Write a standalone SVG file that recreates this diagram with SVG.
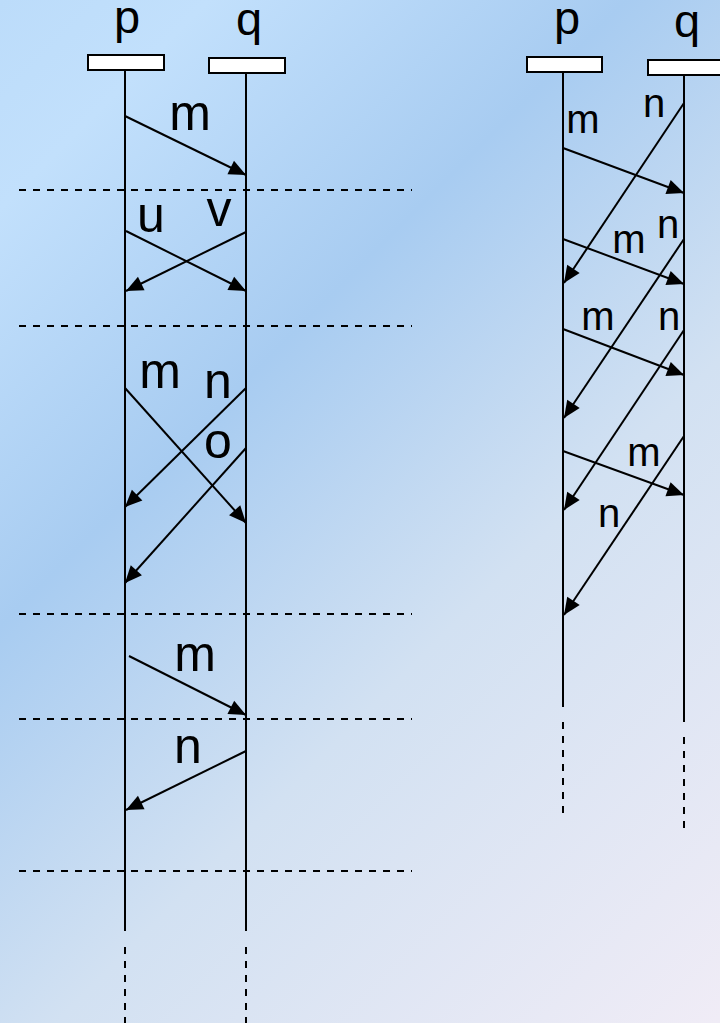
<svg xmlns="http://www.w3.org/2000/svg" width="720" height="1023" viewBox="0 0 720 1023">
<defs>
<linearGradient id="bg" gradientUnits="userSpaceOnUse" x1="0" y1="0" x2="870" y2="870">
<stop offset="0" stop-color="#bcdcfa"/>
<stop offset="0.12" stop-color="#c2e0fc"/>
<stop offset="0.36" stop-color="#a8ccf1"/>
<stop offset="0.62" stop-color="#d2e1f2"/>
<stop offset="1" stop-color="#f0ecf6"/>
</linearGradient>
<marker id="ah" markerUnits="userSpaceOnUse" markerWidth="18" markerHeight="15" refX="17" refY="7.5" orient="auto" overflow="visible">
<path d="M0,0 L17,7.5 L0,15 z" fill="#000"/>
</marker>
<style>
.hdr{fill:#fff;stroke:#000;stroke-width:2}
.life{stroke:#000;stroke-width:2;fill:none}
.dash{stroke:#000;stroke-width:2;stroke-dasharray:7 7;fill:none}
.msg{stroke:#000;stroke-width:2;fill:none;marker-end:url(#ah)}
text{font-family:"Liberation Sans",Arial,sans-serif;fill:#000;text-anchor:middle}
.big{font-size:47px}
.lbl{font-size:50px}
.sm{font-size:40px}
</style>
</defs>
<rect x="0" y="0" width="720" height="1023" fill="url(#bg)"/>

<g id="separators">
<line class="dash" x1="19" y1="190" x2="412" y2="190"/>
<line class="dash" x1="19" y1="326" x2="412" y2="326"/>
<line class="dash" x1="19" y1="614" x2="412" y2="614"/>
<line class="dash" x1="19" y1="719" x2="412" y2="719"/>
<line class="dash" x1="19" y1="871" x2="412" y2="871"/>
</g>

<g id="left-p">
<text class="big" x="127" y="33">p</text>
<rect class="hdr" x="88" y="55" width="76" height="15"/>
<line class="life" x1="125" y1="70" x2="125" y2="931"/>
<line class="dash" x1="125" y1="947" x2="125" y2="1023"/>
</g>
<g id="left-q">
<text class="big" x="249" y="35">q</text>
<rect class="hdr" x="209" y="58" width="76" height="15"/>
<line class="life" x1="246" y1="73" x2="246" y2="931"/>
<line class="dash" x1="246" y1="947" x2="246" y2="1023"/>
</g>

<g id="right-p">
<text class="big" x="567" y="34">p</text>
<rect class="hdr" x="527" y="57" width="75" height="15"/>
<line class="life" x1="563" y1="72" x2="563" y2="707"/>
<line class="dash" x1="563" y1="722" x2="563" y2="813"/>
</g>
<g id="right-q">
<text class="big" x="687" y="37">q</text>
<rect class="hdr" x="648" y="60" width="76" height="15"/>
<line class="life" x1="684" y1="75" x2="684" y2="722"/>
<line class="dash" x1="684" y1="737" x2="684" y2="829"/>
</g>

<g id="connectors">
<line class="msg" x1="125" y1="116" x2="246" y2="175"/>
<line class="msg" x1="126" y1="231" x2="246" y2="291"/>
<line class="msg" x1="246" y1="232" x2="126" y2="291"/>
<line class="msg" x1="125" y1="388" x2="246" y2="523"/>
<line class="msg" x1="246" y1="388" x2="125" y2="507"/>
<line class="msg" x1="246" y1="448" x2="125" y2="583"/>
<line class="msg" x1="129" y1="656" x2="246" y2="715"/>
<line class="msg" x1="246" y1="751" x2="126" y2="810"/>

<line class="msg" x1="563" y1="148" x2="684" y2="193"/>
<line class="msg" x1="684" y1="103" x2="564" y2="283"/>
<line class="msg" x1="563" y1="239" x2="684" y2="284"/>
<line class="msg" x1="684" y1="239" x2="564" y2="418"/>
<line class="msg" x1="563" y1="329" x2="684" y2="375"/>
<line class="msg" x1="684" y1="330" x2="564" y2="510"/>
<line class="msg" x1="563" y1="451" x2="684" y2="495"/>
<line class="msg" x1="684" y1="436" x2="564" y2="615"/>
</g>

<g id="labels">
<text class="lbl" x="190" y="130">m</text>
<text class="lbl" x="151" y="232">u</text>
<text class="lbl" x="219" y="226">v</text>
<text class="lbl" x="160" y="388">m</text>
<text class="lbl" x="218" y="398">n</text>
<text class="lbl" x="218" y="458">o</text>
<text class="lbl" x="195" y="671">m</text>
<text class="lbl" x="188" y="763">n</text>

<text class="sm" x="583" y="133">m</text>
<text class="sm" x="654" y="117">n</text>
<text class="sm" x="668" y="238">n</text>
<text class="sm" x="629" y="253">m</text>
<text class="sm" x="598" y="330">m</text>
<text class="sm" x="669" y="330">n</text>
<text class="sm" x="644" y="466">m</text>
<text class="sm" x="609" y="527">n</text>
</g>
</svg>
